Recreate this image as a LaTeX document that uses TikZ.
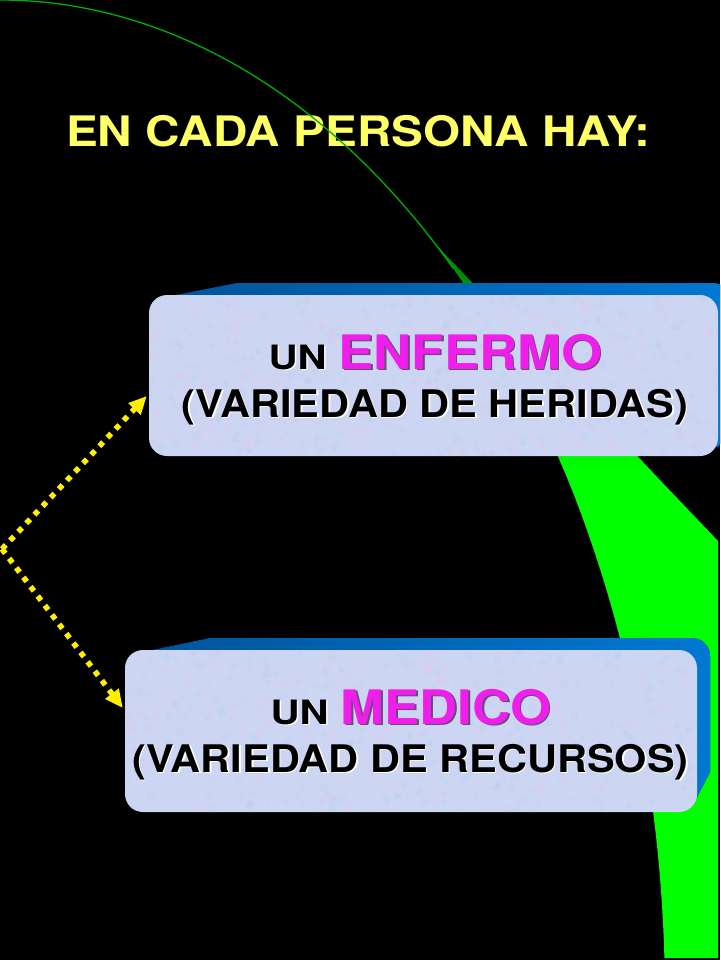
\documentclass[tikz,border=0pt]{standalone}
\usepackage{fontspec}
\usepackage{graphicx}
\setmainfont{Liberation Sans}
\newfontfamily\hb{texgyreheros-bold.otf}
\usetikzlibrary{arrows.meta,calc}
\definecolor{titleyellow}{RGB}{255,255,102}
\definecolor{arrowyellow}{RGB}{255,240,0}
\definecolor{boxfill}{RGB}{204,213,242}
\definecolor{speckpink}{RGB}{228,200,232}
\definecolor{speckblue}{RGB}{184,206,240}
\definecolor{backdark}{RGB}{0,85,155}
\definecolor{backlight}{RGB}{0,120,210}
\definecolor{brightgreen}{RGB}{0,255,0}
\definecolor{darkgreen}{RGB}{0,120,0}
\definecolor{linegreen}{RGB}{0,175,0}
\definecolor{magentatxt}{RGB}{240,30,235}
\definecolor{magshadow}{RGB}{95,80,115}
\newcommand\wide[2]{\scalebox{#1}[1]{#2}}
\newcommand\headtxt[3]{{\hb\fontsize{33.5}{34}\selectfont\textcolor{#1}{\wide{1.2}{UN}}}\hspace{12pt}{\hb\fontsize{47.5}{48}\selectfont\textcolor{#2}{\wide{1.11}{#3}}}}
\newcommand\subtext[1]{{\hb\fontsize{38}{38}\selectfont\wide{1.093}{#1}}}
\newcommand\speckle[4]{%
  \foreach \k in {1,...,700}{%
    \pgfmathsetmacro\sx{#1+#3*rnd}%
    \pgfmathsetmacro\sy{#2+#4*rnd}%
    \pgfmathsetmacro\sr{1.5+3*rnd}%
    \pgfmathtruncatemacro\sc{mod(\k,2)}%
    \ifnum\sc=0 \fill[speckpink, opacity=0.25] (\sx,\sy) circle[radius=\sr];
    \else \fill[speckblue, opacity=0.25] (\sx,\sy) circle[radius=\sr];\fi
  }}
\begin{document}
\begin{tikzpicture}[x=1pt,y=-1pt,
  frontbox/.style={draw=none, fill=boxfill, rounded corners=18pt, inner sep=0pt},
  subtxt/.style={anchor=base, inner sep=0pt},
  headnode/.style={anchor=base, inner sep=0pt},
  dotarrow/.style={arrowyellow, line width=5.5pt, dash pattern=on 5.5pt off 6.3pt, -{Triangle[length=18pt,width=16pt]}},
  backfill/.style={left color=backdark, right color=backlight},
  moon/.style={x radius=665, y radius=1000}]
\pgfmathsetseed{7}
\useasboundingbox (0,0) rectangle (720,960);
\fill[black] (0,0) rectangle (720,960);
\clip (0,0) rectangle (720,960);
% title
\node[anchor=base west, inner sep=0pt, text=titleyellow, font=\hb\fontsize{42}{42}\selectfont] (title) at (66,147) {\wide{1.135}{EN CADA PERSONA HAY:}};
% green crescent
\fill[brightgreen] (436.3,245.3) arc[start angle=-49, end angle=-2.4, moon] -- (718,958) -- (718,541) -- cycle;
\begin{scope}
\clip (436.3,245.3) arc[start angle=-49, end angle=-2.4, moon] -- (718,958) -- (718,541) -- cycle;
\shade[top color=darkgreen, bottom color=brightgreen] (420,240) rectangle (720,470);
\end{scope}
\draw[linegreen, line width=1.3pt] (0,0) arc[start angle=-90, end angle=-47, moon];
% box 1
\fill[backfill] (173,310) -- (173,295.5) -- (237,283) -- (713,283) .. controls (723,283) and (731,291) .. (731,301) -- (731,430) -- (718,447) -- cycle;
\node[frontbox, minimum width=569pt, minimum height=161pt] (box1) at (433.5,375.5) {};
\begin{scope}
\clip[rounded corners=18pt] (box1.south west) rectangle (box1.north east);
\speckle{149}{295}{569}{161}
\end{scope}
\node[headnode] (s1a) at (437,370.5) {\headtxt{white}{magshadow}{ENFERMO}};
\node[headnode] (t1a) at (435.5,369) {\headtxt{black}{magentatxt}{ENFERMO}};
\node[subtxt, text=white] (s1b) at (436.5,418.5) {\subtext{(VARIEDAD DE HERIDAS)}};
\node[subtxt, text=black] (t1b) at (435,417) {\subtext{(VARIEDAD DE HERIDAS)}};
% box 2
\fill[backfill] (150,662) -- (150,650.5) -- (210,638) -- (692,638) .. controls (702,638) and (710,646) .. (710,656) -- (710,772) -- (697,797) -- cycle;
\node[frontbox, minimum width=572pt, minimum height=162pt] (box2) at (411,731) {};
\begin{scope}
\clip[rounded corners=18pt] (box2.south west) rectangle (box2.north east);
\speckle{125}{650}{572}{162}
\end{scope}
\node[headnode] (s2a) at (412.5,725.5) {\headtxt{white}{magshadow}{MEDICO}};
\node[headnode] (t2a) at (411,724) {\headtxt{black}{magentatxt}{MEDICO}};
\node[subtxt, text=white] (s2b) at (412,773.5) {\subtext{(VARIEDAD DE RECURSOS)}};
\node[subtxt, text=black] (t2b) at (410.5,772) {\subtext{(VARIEDAD DE RECURSOS)}};
% arrows
\coordinate (src) at (2,549);
\draw[dotarrow] (src) -- ($(box1.west)+(-2,20.5)$);
\draw[dotarrow] (src) -- ($(box2.west)+(-2,-23)$);
\end{tikzpicture}
\end{document}
